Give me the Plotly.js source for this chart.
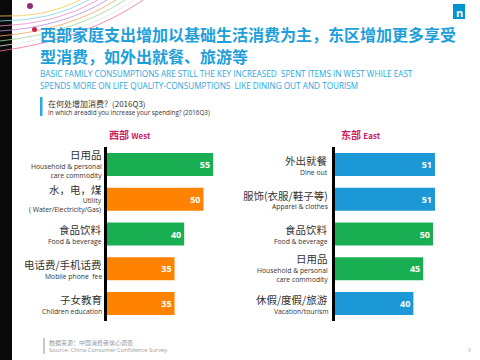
<!DOCTYPE html>
<html>
<head>
<meta charset="utf-8">
<script src="https://cdn.plot.ly/plotly-3.0.1.min.js"></script>
<style>html,body{margin:0;padding:0;background:#fff;}#chart{width:480px;height:360px;}</style>
</head>
<body>
<div id="chart"></div>
<script>
// ---- data ----
const westCats = ["日用品", "水，电，煤", "食品饮料", "电话费/手机话费", "子女教育"];
const westEn = ["Household & personal<br>care commodity", "Utility<br>( Water/Electricity/Gas)", "Food & beverage", "Mobile phone  fee", "Children education"];
const westVals = [55, 50, 40, 35, 35];
const westColors = ["#1aae52", "#ff8200", "#1aae52", "#ff8200", "#ff8200"];

const eastCats = ["外出就餐", "服饰(衣服/鞋子等)", "食品饮料 ", "日用品 ", "休假/度假/旅游"];
const eastEn = ["Dine out", "Apparel & clothes", "Food & beverage", "Household & personal<br>care commodity", "Vacation/tourism"];
const eastVals = [51, 51, 50, 45, 40];
const eastColors = ["#1b98d5", "#1b98d5", "#1aae52", "#1aae52", "#1b98d5"];

const titleCn1 = "西部家庭支出增加以基础生活消费为主，东区增加更多享受";
const titleCn2 = "型消费，如外出就餐、旅游等";
const titleEn1 = "BASIC FAMILY CONSUMPTIONS ARE STILL THE KEY INCREASED  SPENT ITEMS IN WEST WHILE EAST";
const titleEn2 = "SPENDS MORE ON LIFE QUALITY-CONSUMPTIONS  LIKE DINING OUT AND TOURISM";
const qCn = "在何处增加消费？(2016Q3)";
const qEn = "In which areadid you increase your spending? (2016Q3)";
const srcCn = "数据来源：中国消费者信心调查";
const srcEn = "Source: China Consumer Confidence Survey";

// ---- helpers ----
const W = 480, H = 360;
const px = v => v / W;
const py = v => 1 - v / H;
const EN = "Open Sans, Noto Sans CJK SC, sans-serif";
const CN = "Noto Sans CJK SC, sans-serif";

function barTrace(cats, vals, colors, xa, ya) {
  return {
    type: "bar", orientation: "h", y: cats, x: vals,
    xaxis: xa, yaxis: ya,
    marker: {color: colors, line: {width: 0}},
    width: 0.66,
    text: vals.map(v => "<b>" + v + "</b>"),
    textposition: "inside", insidetextanchor: "end",
    textfont: {color: "#ffffff", size: 9, family: EN},
    constraintext: "none", cliponaxis: false, hoverinfo: "none"
  };
}

const traces = [
  barTrace(westCats, westVals, westColors, "x", "y"),
  barTrace(eastCats, eastVals, eastColors, "x2", "y2")
];

const ann = [];
function txt(x, y, text, size, color, opts) {
  ann.push(Object.assign({xref: "paper", yref: "paper", x: px(x), y: py(y), text: text,
    showarrow: false, xanchor: "left", yanchor: "middle", borderpad: 0, align: "left",
    font: {size: size, color: color, family: EN}}, opts || {}));
}

// Titles
const titleFont = {size: 16, color: "#1e9fdb", family: CN, weight: "bold"};
txt(39, 33.8, titleCn1, 16, "#1e9fdb", {font: titleFont});
txt(39, 55.6, titleCn2, 16, "#1e9fdb", {font: titleFont});
txt(39, 73.4, titleEn1, 8.2, "#2aa8e0");
txt(39, 85.2, titleEn2, 8.2, "#2aa8e0");
txt(47, 103, qCn, 8, "#333333", {font: {size: 8, color: "#333", family: CN}});
txt(47, 112.5, qEn, 6.3, "#333333");

// Panel labels
txt(108, 134, "<b>西部</b> <b><span style='font-size:8px'>West</span></b>", 10, "#d0205e", {font: {size: 10, color: "#d0205e", family: CN}});
txt(340, 134, "<b>东部</b> <b><span style='font-size:8px'>East</span></b>", 10, "#d0205e", {font: {size: 10, color: "#d0205e", family: CN}});

// Category labels
function catLabels(cats, ens, xr, yref) {
  cats.forEach((c, i) => {
    const three = ens[i].indexOf("<br>") >= 0;
    ann.push({xref: "paper", yref: yref, x: px(xr), y: c, text: c.trim(), showarrow: false,
      xanchor: "right", yanchor: "middle", yshift: three ? 10 : 4, borderpad: 0,
      font: {size: 10.5, color: "#333333", family: CN}});
    ann.push({xref: "paper", yref: yref, x: px(xr), y: c, text: ens[i], showarrow: false,
      xanchor: "right", yanchor: "middle", yshift: three ? -6.2 : -7.6, align: "right", borderpad: 0,
      font: {size: 6.8, color: "#333333", family: EN}});
  });
}
catLabels(westCats, westEn, 103, "y");
catLabels(eastCats, eastEn, 329, "y2");

// Footer
txt(48, 342, srcCn, 6, "#9a9a9a", {font: {size: 6, color: "#9a9a9a", family: CN}});
txt(48, 350, srcEn, 5.8, "#9a9a9a");
txt(469, 350, "9", 5, "#aaaaaa", {xanchor: "center"});
// Logo letter
txt(459, 12.5, "<b>n</b>", 11, "#ffffff", {xanchor: "center"});

const shapes = [
  // left black strip
  {type: "rect", xref: "paper", yref: "paper", x0: 0, x1: px(12), y0: 0, y1: 1, fillcolor: "#0a0a0a", line: {width: 0}, layer: "below"},
  // logo box
  {type: "rect", xref: "paper", yref: "paper", x0: px(453), x1: px(465), y0: py(19), y1: py(4), fillcolor: "#0094d2", line: {width: 0}},
  // question marker
  {type: "rect", xref: "paper", yref: "paper", x0: px(40), x1: px(42.5), y0: py(116), y1: py(97), fillcolor: "#2aa8e0", line: {width: 0}},
  // source marker
  {type: "rect", xref: "paper", yref: "paper", x0: px(43), x1: px(45), y0: py(354), y1: py(338), fillcolor: "#c8c8c8", line: {width: 0}},
];
// decorative arcs top-left
const arcColors = ["#f2c94c", "#7fd3e8", "#e88cc0", "#b58ad6", "#f4a259", "#9bd49b", "#e6e6e6", "#ef6f9a"];
arcColors.forEach((col, i) => {
  const x0 = 0, y0 = 4 + i * 5, x1 = 50 + i * 9, y1 = 0;
  const cx = 25 + i * 6, cy = 14 + i * 3;
  shapes.push({type: "path", xref: "paper", yref: "paper",
    path: `M ${px(x0)} ${py(y0 + 12)} Q ${px(cx + 20)} ${py(cy + 4)} ${px(x1 + 30)} ${py(y1)}`,
    line: {color: col, width: 0.8}, layer: "below"});
});
shapes.push({type: "circle", xref: "paper", yref: "paper", x0: px(27), x1: px(33), y0: py(9), y1: py(3), fillcolor: "#8e2f7a", line: {width: 0}});
shapes.push({type: "circle", xref: "paper", yref: "paper", x0: px(32), x1: px(37), y0: py(32), y1: py(27), fillcolor: "#c8234e", line: {width: 0}});

const yTop = py(147.1), yBot = py(320.9);
const layout = {
  width: W, height: H,
  margin: {l: 0, r: 0, t: 0, b: 0},
  paper_bgcolor: "#ffffff", plot_bgcolor: "rgba(0,0,0,0)",
  showlegend: false,
  font: {family: EN},
  xaxis: {domain: [px(107), px(107 + 60 * 1.93)], range: [0, 60], visible: false, fixedrange: true},
  yaxis: {domain: [yBot, yTop], anchor: "x", autorange: "reversed", showticklabels: false, ticks: "",
    showline: true, linecolor: "#000000", linewidth: 3, showgrid: false, zeroline: false},
  xaxis2: {domain: [px(335), px(335 + 60 * 1.96)], range: [0, 60], visible: false, anchor: "y2"},
  yaxis2: {domain: [yBot, yTop], anchor: "x2", autorange: "reversed", showticklabels: false, ticks: "",
    showline: true, linecolor: "#000000", linewidth: 3, showgrid: false, zeroline: false},
  annotations: ann,
  shapes: shapes
};

Plotly.newPlot("chart", traces, layout, {displayModeBar: false, staticPlot: true});
</script>
</body>
</html>
